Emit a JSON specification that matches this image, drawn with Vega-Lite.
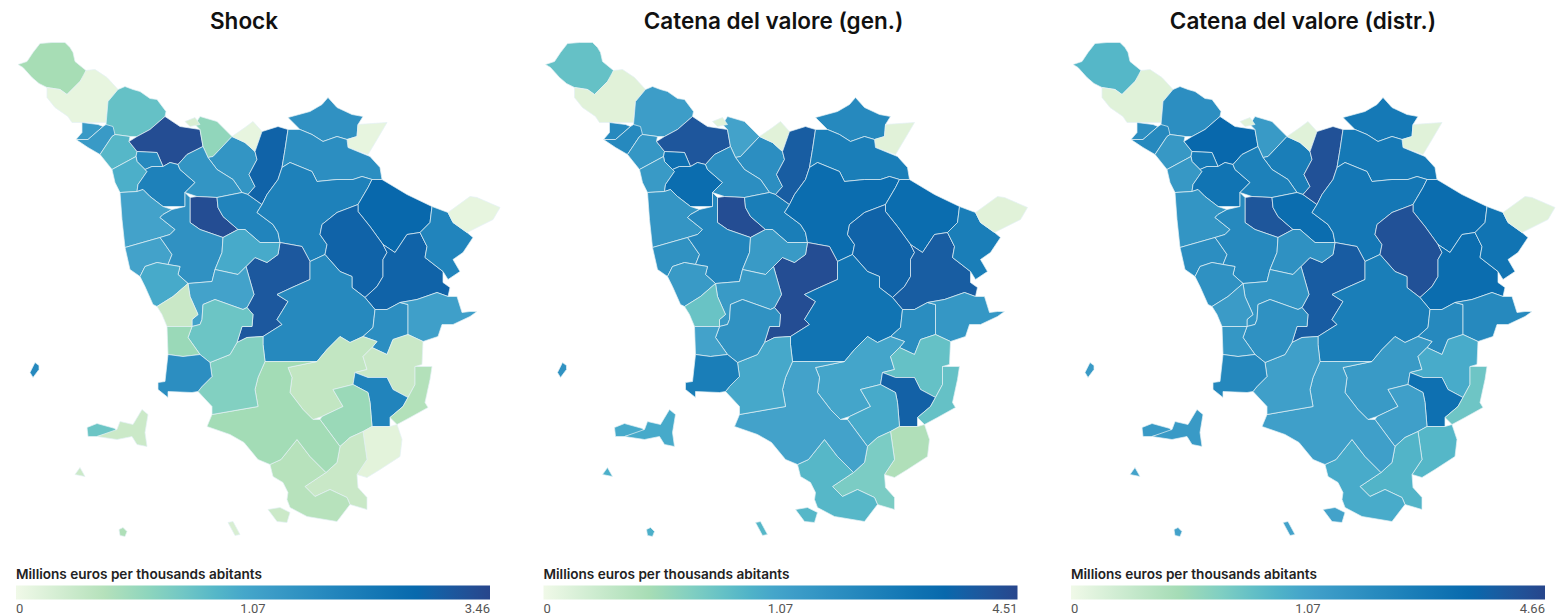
{"$schema":"https://vega.github.io/schema/vega-lite/v6.json","background":"white","padding":{"left":16,"top":10,"right":0,"bottom":0},"spacing":41.5,"config":{"view":{"stroke":null},"font":"Roboto"},"resolve":{"scale":{"color":"independent"}},
"datasets":{"regions":[
{"type":"Feature","properties":{"id":"r01","shock":0.27,"gen":0.6,"distr":0.74},"geometry":{"type":"Polygon","coordinates":[[[40,44],[52,43],[65,43],[70,48],[73,53],[75,62],[86,71],[84,77],[80,82],[67,95],[60,90],[47,88],[39,84],[32,78],[23,68],[18,65],[27,62],[33,53],[40,44]]]}},
{"type":"Feature","properties":{"id":"r02","shock":0.01,"gen":0.01,"distr":0.01},"geometry":{"type":"Polygon","coordinates":[[[86,71],[95,70],[107,78],[118,90],[108,102],[106,123],[92,123],[72,123],[68,117],[55,108],[47,98],[47,88],[60,90],[67,95],[80,82],[86,71]]]}},
{"type":"Feature","properties":{"id":"r03","shock":0.67,"gen":1.21,"distr":1.69},"geometry":{"type":"Polygon","coordinates":[[[125,87],[133,90],[140,92],[150,99],[157,100],[166,112],[165,117],[150,130],[137,137],[130,137],[115,135],[106,125],[108,102],[118,90],[125,87]]]}},
{"type":"Feature","properties":{"id":"r04","shock":1.26,"gen":1.85,"distr":1.69},"geometry":{"type":"Polygon","coordinates":[[[82,123],[98,125],[103,127],[88,140],[76,140],[82,133],[82,123]]]}},
{"type":"Feature","properties":{"id":"r05","shock":1.26,"gen":1.85,"distr":1.87},"geometry":{"type":"Polygon","coordinates":[[[103,127],[106,125],[113,127],[115,135],[112,137],[100,155],[88,148],[76,140],[88,140],[103,127]]]}},
{"type":"Feature","properties":{"id":"r06","shock":0.79,"gen":1.4,"distr":1.36},"geometry":{"type":"Polygon","coordinates":[[[115,135],[130,137],[129,142],[137,152],[136,157],[112,170],[100,155],[112,137],[115,135]]]}},
{"type":"Feature","properties":{"id":"r07","shock":3.29,"gen":3.88,"distr":3.3},"geometry":{"type":"Polygon","coordinates":[[[165,117],[180,127],[200,130],[203,147],[187,155],[178,165],[170,163],[163,167],[157,153],[137,152],[129,142],[137,137],[150,130],[165,117]]]}},
{"type":"Feature","properties":{"id":"r08","shock":1.67,"gen":2.84,"distr":2.53},"geometry":{"type":"Polygon","coordinates":[[[137,152],[157,153],[163,167],[152,167],[145,170],[137,162],[136,157],[137,152]]]}},
{"type":"Feature","properties":{"id":"r09","shock":0.9,"gen":1.3,"distr":1.36},"geometry":{"type":"Polygon","coordinates":[[[112,170],[136,157],[137,162],[145,170],[147,172],[138,185],[137,192],[120,193],[115,183],[112,170]]]}},
{"type":"Feature","properties":{"id":"r10","shock":1.89,"gen":2.99,"distr":2.75},"geometry":{"type":"Polygon","coordinates":[[[137,192],[138,185],[147,172],[145,170],[152,167],[163,167],[170,163],[178,165],[180,170],[195,183],[185,193],[185,207],[163,207],[150,197],[143,190],[137,192]]]}},
{"type":"Feature","properties":{"id":"r11","shock":0.38,"gen":1.07,"distr":1.31},"geometry":{"type":"Polygon","coordinates":[[[200,117],[217,122],[232,137],[213,157],[208,158],[203,147],[200,130],[195,125],[200,117]]]}},
{"type":"Feature","properties":{"id":"r12","shock":0.05,"gen":0.01,"distr":0.01},"geometry":{"type":"Polygon","coordinates":[[[185,122],[195,118],[200,125],[190,127],[185,122]]]}},
{"type":"Feature","properties":{"id":"r13","shock":1.38,"gen":1.67,"distr":2.32},"geometry":{"type":"Polygon","coordinates":[[[232,137],[245,143],[255,152],[257,160],[249,175],[255,187],[248,195],[242,193],[233,180],[217,170],[208,158],[213,157],[232,137]]]}},
{"type":"Feature","properties":{"id":"r14","shock":1.38,"gen":1.67,"distr":2.19},"geometry":{"type":"Polygon","coordinates":[[[203,147],[208,158],[217,170],[233,180],[242,193],[217,198],[197,197],[185,193],[195,183],[180,170],[178,165],[187,155],[203,147]]]}},
{"type":"Feature","properties":{"id":"r15","shock":3.29,"gen":4.23,"distr":4.0},"geometry":{"type":"Polygon","coordinates":[[[190,198],[197,197],[217,198],[218,208],[223,217],[238,230],[223,238],[200,230],[190,223],[190,198]]]}},
{"type":"Feature","properties":{"id":"r16","shock":1.8,"gen":2.28,"distr":3.06},"geometry":{"type":"Polygon","coordinates":[[[218,208],[217,198],[242,193],[248,195],[262,205],[257,213],[273,225],[278,233],[280,243],[260,243],[245,230],[238,230],[223,217],[218,208]]]}},
{"type":"Feature","properties":{"id":"r17","shock":1.46,"gen":1.85,"distr":2.53},"geometry":{"type":"Polygon","coordinates":[[[288,118],[310,112],[322,105],[328,98],[337,108],[352,115],[363,117],[358,125],[357,137],[347,140],[337,137],[323,142],[312,135],[300,130],[288,118]]]}},
{"type":"Feature","properties":{"id":"r18","shock":0.01,"gen":0.01,"distr":0.01},"geometry":{"type":"Polygon","coordinates":[[[358,125],[387,123],[377,140],[368,155],[348,148],[347,140],[357,137],[358,125]]]}},
{"type":"Feature","properties":{"id":"r19","shock":0.01,"gen":0.01,"distr":0.01},"geometry":{"type":"Polygon","coordinates":[[[232,137],[245,128],[253,122],[262,132],[255,152],[245,143],[232,137]]]}},
{"type":"Feature","properties":{"id":"r20","shock":2.74,"gen":3.62,"distr":4.18},"geometry":{"type":"Polygon","coordinates":[[[262,132],[278,127],[288,130],[285,150],[282,168],[278,180],[267,195],[262,205],[248,195],[255,187],[249,175],[257,160],[255,152],[262,132]]]}},
{"type":"Feature","properties":{"id":"r21","shock":1.54,"gen":2.28,"distr":2.53},"geometry":{"type":"Polygon","coordinates":[[[288,130],[300,130],[312,135],[323,142],[337,137],[347,140],[348,148],[370,157],[380,168],[382,180],[372,180],[362,177],[353,180],[337,180],[317,182],[312,172],[290,163],[282,168],[285,150],[288,130]]]}},
{"type":"Feature","properties":{"id":"r22","shock":1.89,"gen":2.99,"distr":2.6},"geometry":{"type":"Polygon","coordinates":[[[282,168],[290,163],[312,172],[317,182],[337,180],[353,180],[362,177],[372,180],[368,188],[358,205],[337,213],[322,225],[320,235],[327,245],[325,255],[310,262],[302,247],[280,243],[278,233],[273,225],[257,213],[262,205],[267,195],[278,180],[282,168]]]}},
{"type":"Feature","properties":{"id":"r23","shock":2.63,"gen":2.99,"distr":3.06},"geometry":{"type":"Polygon","coordinates":[[[372,180],[382,180],[407,195],[432,207],[430,223],[420,233],[407,235],[395,253],[383,245],[370,227],[358,212],[358,205],[368,188],[372,180]]]}},
{"type":"Feature","properties":{"id":"r24","shock":2.74,"gen":3.38,"distr":4.18},"geometry":{"type":"Polygon","coordinates":[[[358,205],[337,213],[322,225],[320,235],[327,245],[325,255],[340,272],[352,277],[352,288],[365,298],[377,287],[383,277],[383,260],[387,253],[383,245],[370,227],[358,212],[358,205]]]}},
{"type":"Feature","properties":{"id":"r25","shock":2.74,"gen":3.62,"distr":3.06},"geometry":{"type":"Polygon","coordinates":[[[383,245],[395,253],[407,235],[420,233],[427,247],[425,258],[443,272],[443,283],[450,288],[448,297],[437,293],[417,300],[400,303],[387,310],[375,310],[365,298],[377,287],[383,277],[383,260],[387,253],[383,245]]]}},
{"type":"Feature","properties":{"id":"r26","shock":1.8,"gen":2.28,"distr":2.75},"geometry":{"type":"Polygon","coordinates":[[[432,207],[448,213],[453,223],[467,233],[473,238],[463,253],[453,260],[460,272],[448,280],[443,272],[425,258],[427,247],[420,233],[430,223],[432,207]]]}},
{"type":"Feature","properties":{"id":"r27","shock":0.01,"gen":0.01,"distr":0.01},"geometry":{"type":"Polygon","coordinates":[[[448,213],[453,223],[467,233],[493,220],[500,208],[477,198],[470,197],[448,213]]]}},
{"type":"Feature","properties":{"id":"r28","shock":3.0,"gen":4.23,"distr":3.73},"geometry":{"type":"Polygon","coordinates":[[[246,267],[255,258],[267,263],[278,255],[280,243],[302,247],[310,262],[310,280],[292,288],[277,295],[288,302],[277,320],[282,325],[263,337],[247,338],[237,343],[242,327],[252,327],[253,315],[247,308],[254,295],[246,267]]]}},
{"type":"Feature","properties":{"id":"r29","shock":1.67,"gen":2.69,"distr":2.32},"geometry":{"type":"Polygon","coordinates":[[[277,295],[292,288],[310,280],[310,262],[325,255],[340,272],[352,277],[352,288],[365,298],[375,310],[373,328],[363,337],[350,343],[340,337],[327,350],[317,362],[265,362],[263,345],[263,337],[282,325],[277,320],[288,302],[277,295]]]}},
{"type":"Feature","properties":{"id":"r30","shock":1.54,"gen":1.73,"distr":1.87},"geometry":{"type":"Polygon","coordinates":[[[375,310],[387,310],[400,303],[408,305],[408,335],[393,340],[387,355],[372,348],[377,342],[363,337],[373,328],[375,310]]]}},
{"type":"Feature","properties":{"id":"r31","shock":1.14,"gen":1.4,"distr":1.87},"geometry":{"type":"Polygon","coordinates":[[[400,303],[417,300],[437,293],[448,297],[457,297],[462,313],[470,312],[477,312],[470,317],[453,325],[442,325],[438,337],[423,342],[408,335],[408,305],[400,303]]]}},
{"type":"Feature","properties":{"id":"r32","shock":0.14,"gen":1.02,"distr":1.31},"geometry":{"type":"Polygon","coordinates":[[[288,368],[317,362],[327,350],[340,337],[350,343],[363,337],[377,342],[372,348],[363,357],[367,370],[355,373],[353,385],[333,390],[343,407],[322,417],[313,420],[303,410],[290,393],[292,378],[288,368]]]}},
{"type":"Feature","properties":{"id":"r33","shock":0.11,"gen":0.6,"distr":0.93},"geometry":{"type":"Polygon","coordinates":[[[372,348],[387,355],[393,340],[408,335],[423,342],[422,365],[415,367],[415,385],[408,398],[393,390],[387,378],[368,378],[355,373],[367,370],[363,357],[372,348]]]}},
{"type":"Feature","properties":{"id":"r34","shock":1.8,"gen":3.46,"distr":2.9},"geometry":{"type":"Polygon","coordinates":[[[355,373],[368,378],[387,378],[393,390],[408,398],[403,407],[390,418],[390,427],[372,427],[370,403],[368,393],[353,385],[355,373]]]}},
{"type":"Feature","properties":{"id":"r35","shock":0.21,"gen":0.6,"distr":0.53},"geometry":{"type":"Polygon","coordinates":[[[415,367],[432,367],[430,380],[425,403],[428,408],[410,418],[397,425],[390,418],[403,407],[408,398],[415,385],[415,367]]]}},
{"type":"Feature","properties":{"id":"r36","shock":0.33,"gen":0.94,"distr":1.16},"geometry":{"type":"Polygon","coordinates":[[[333,390],[353,385],[368,393],[370,403],[372,427],[363,432],[350,438],[340,447],[320,420],[322,417],[343,407],[333,390]]]}},
{"type":"Feature","properties":{"id":"r37","shock":0.02,"gen":0.16,"distr":0.74},"geometry":{"type":"Polygon","coordinates":[[[363,432],[372,427],[390,427],[397,425],[402,440],[400,457],[380,470],[367,478],[357,475],[367,460],[363,432]]]}},
{"type":"Feature","properties":{"id":"r38","shock":0.11,"gen":0.45,"distr":0.78},"geometry":{"type":"Polygon","coordinates":[[[340,447],[350,438],[363,432],[367,460],[357,475],[358,488],[367,498],[367,510],[350,505],[347,498],[330,490],[315,497],[305,487],[326,473],[337,463],[340,447]]]}},
{"type":"Feature","properties":{"id":"r39","shock":0.19,"gen":0.74,"distr":0.93},"geometry":{"type":"Polygon","coordinates":[[[270,465],[281,460],[297,440],[310,457],[326,473],[305,487],[315,497],[330,490],[347,498],[350,505],[337,522],[307,517],[290,508],[287,500],[288,493],[283,483],[273,477],[270,465]]]}},
{"type":"Feature","properties":{"id":"r40","shock":0.29,"gen":1.07,"distr":1.16},"geometry":{"type":"Polygon","coordinates":[[[207,427],[212,415],[258,407],[255,390],[258,378],[265,362],[317,362],[288,368],[292,378],[290,393],[303,410],[313,420],[320,420],[340,447],[337,463],[326,473],[310,457],[297,440],[281,460],[270,465],[258,460],[244,443],[230,435],[207,427]]]}},
{"type":"Feature","properties":{"id":"r41","shock":0.47,"gen":0.98,"distr":1.16},"geometry":{"type":"Polygon","coordinates":[[[210,363],[230,355],[237,343],[247,338],[263,337],[263,345],[265,362],[258,378],[255,390],[258,407],[212,415],[212,407],[198,392],[202,387],[212,377],[210,363]]]}},
{"type":"Feature","properties":{"id":"r42","shock":1.07,"gen":1.45,"distr":1.47},"geometry":{"type":"Polygon","coordinates":[[[120,193],[137,192],[143,190],[150,197],[163,207],[172,210],[163,215],[160,218],[175,230],[170,235],[160,238],[125,248],[122,220],[120,193]]]}},
{"type":"Feature","properties":{"id":"r43","shock":1.07,"gen":1.56,"distr":1.69},"geometry":{"type":"Polygon","coordinates":[[[125,248],[160,238],[163,242],[172,255],[168,265],[157,263],[145,267],[140,277],[130,270],[125,248]]]}},
{"type":"Feature","properties":{"id":"r44","shock":1.46,"gen":1.97,"distr":1.87},"geometry":{"type":"Polygon","coordinates":[[[172,210],[185,207],[185,193],[190,198],[190,223],[200,230],[223,238],[222,253],[215,270],[212,282],[188,284],[178,275],[180,267],[168,265],[172,255],[163,242],[160,238],[170,235],[175,230],[160,218],[163,215],[172,210]]]}},
{"type":"Feature","properties":{"id":"r45","shock":0.96,"gen":1.3,"distr":1.58},"geometry":{"type":"Polygon","coordinates":[[[223,238],[238,230],[245,230],[260,243],[280,243],[278,255],[267,263],[255,258],[246,267],[238,275],[215,270],[222,253],[223,238]]]}},
{"type":"Feature","properties":{"id":"r46","shock":0.96,"gen":1.3,"distr":1.58},"geometry":{"type":"Polygon","coordinates":[[[145,267],[157,263],[168,265],[180,267],[178,275],[188,284],[173,297],[157,307],[153,305],[145,287],[140,277],[145,267]]]}},
{"type":"Feature","properties":{"id":"r47","shock":1.07,"gen":1.3,"distr":1.47},"geometry":{"type":"Polygon","coordinates":[[[188,284],[212,282],[215,270],[238,275],[246,267],[254,295],[247,308],[243,310],[215,300],[203,305],[202,320],[200,325],[192,327],[192,320],[198,315],[190,297],[188,284]]]}},
{"type":"Feature","properties":{"id":"r48","shock":0.62,"gen":1.56,"distr":1.58},"geometry":{"type":"Polygon","coordinates":[[[203,305],[215,300],[243,310],[247,308],[253,315],[252,327],[242,327],[237,343],[230,355],[210,363],[200,355],[188,338],[192,327],[200,325],[202,320],[203,305]]]}},
{"type":"Feature","properties":{"id":"r49","shock":0.11,"gen":0.57,"distr":1.26},"geometry":{"type":"Polygon","coordinates":[[[157,307],[173,297],[188,284],[190,297],[198,315],[192,320],[192,327],[167,327],[162,315],[157,307]]]}},
{"type":"Feature","properties":{"id":"r50","shock":0.33,"gen":1.07,"distr":1.41},"geometry":{"type":"Polygon","coordinates":[[[167,327],[192,327],[188,338],[200,355],[183,357],[168,355],[167,327]]]}},
{"type":"Feature","properties":{"id":"r51","shock":1.54,"gen":2.28,"distr":1.93},"geometry":{"type":"Polygon","coordinates":[[[168,355],[183,357],[200,355],[210,363],[212,377],[202,387],[198,392],[192,393],[168,392],[168,398],[158,390],[158,383],[165,382],[168,355]]]}},
{"type":"Feature","properties":{"id":"r52","shock":1.67,"gen":1.56,"distr":1.31},"geometry":{"type":"Polygon","coordinates":[[[35,363],[39,366],[39,370],[33,378],[30,373],[35,363]]]}},
{"type":"Feature","properties":{"id":"r53","shock":0.62,"gen":0.94,"distr":1.31},"geometry":{"type":"Polygon","coordinates":[[[87,428],[97,424],[115,429],[117,432],[97,437],[88,437],[87,428]]]}},
{"type":"Feature","properties":{"id":"r54","shock":0.1,"gen":0.94,"distr":1.31},"geometry":{"type":"Polygon","coordinates":[[[97,437],[117,430],[120,422],[133,425],[142,410],[148,415],[145,433],[147,447],[137,445],[132,437],[117,440],[97,437]]]}},
{"type":"Feature","properties":{"id":"r55","shock":0.1,"gen":0.86,"distr":1.07},"geometry":{"type":"Polygon","coordinates":[[[75,475],[80,468],[85,477],[75,475]]]}},
{"type":"Feature","properties":{"id":"r56","shock":0.23,"gen":0.86,"distr":1.07},"geometry":{"type":"Polygon","coordinates":[[[119,530],[123,528],[127,532],[125,537],[120,536],[119,530]]]}},
{"type":"Feature","properties":{"id":"r57","shock":0.05,"gen":0.74,"distr":1.07},"geometry":{"type":"Polygon","coordinates":[[[228,523],[233,522],[240,535],[235,536],[228,523]]]}},
{"type":"Feature","properties":{"id":"r58","shock":0.1,"gen":0.74,"distr":1.07},"geometry":{"type":"Polygon","coordinates":[[[268,510],[280,508],[290,513],[287,523],[277,522],[268,510]]]}}
]},
"hconcat":[
{"width":482,"height":495,"title":{"text":"Shock","fontSize":22.5,"fontWeight":600,"font":"Inter","color":"#111111","dx":-15,"offset":8},"data":{"name":"regions"},"mark":{"type":"geoshape","stroke":"#e4f0f5","strokeWidth":0.7},"projection":{"type":"identity"},"encoding":{"color":{"field":"properties.shock","type":"quantitative","scale":{"type":"pow","exponent":0.5906,"domain":[0,0.267,0.53,1.07,2.63,3.46],"range":["#f0f9e8","#a8ddb5","#7bccc4","#43a2ca","#0868ac","#27468c"]},"legend":{"orient":"none","legendX":-2,"legendY":526,"direction":"horizontal","gradientLength":474,"gradientThickness":14,"values":[0,1.07,3.46],"format":".3~g","title":"Millions euros per thousands abitants","titleLimit":400,"titleFont":"Inter","titleFontSize":13.6,"titleFontWeight":600,"titleColor":"#222222","titlePadding":4,"labelFontSize":13,"labelColor":"#555555","labelOffset":3,"labelOverlap":false}}}},
{"width":482,"height":495,"title":{"text":"Catena del valore (gen.)","fontSize":22.5,"fontWeight":600,"font":"Inter","color":"#111111","dx":-13,"offset":8},"data":{"name":"regions"},"mark":{"type":"geoshape","stroke":"#e4f0f5","strokeWidth":0.7},"projection":{"type":"identity"},"encoding":{"color":{"field":"properties.gen","type":"quantitative","scale":{"type":"pow","exponent":0.4818,"domain":[0,0.195,0.451,1.07,3.219,4.51],"range":["#f0f9e8","#a8ddb5","#7bccc4","#43a2ca","#0868ac","#27468c"]},"legend":{"orient":"none","legendX":-2,"legendY":526,"direction":"horizontal","gradientLength":474,"gradientThickness":14,"values":[0,1.07,4.51],"format":".3~g","title":"Millions euros per thousands abitants","titleLimit":400,"titleFont":"Inter","titleFontSize":13.6,"titleFontWeight":600,"titleColor":"#222222","titlePadding":4,"labelFontSize":13,"labelColor":"#555555","labelOffset":3,"labelOverlap":false}}}},
{"width":482,"height":495,"title":{"text":"Catena del valore (distr.)","fontSize":22.5,"fontWeight":600,"font":"Inter","color":"#111111","dx":-11,"offset":8},"data":{"name":"regions"},"mark":{"type":"geoshape","stroke":"#e4f0f5","strokeWidth":0.7},"projection":{"type":"identity"},"encoding":{"color":{"field":"properties.distr","type":"quantitative","scale":{"type":"pow","exponent":0.4711,"domain":[0,0.187,0.443,1.07,3.3,4.66],"range":["#f0f9e8","#a8ddb5","#7bccc4","#43a2ca","#0868ac","#27468c"]},"legend":{"orient":"none","legendX":-2,"legendY":526,"direction":"horizontal","gradientLength":474,"gradientThickness":14,"values":[0,1.07,4.66],"format":".3~g","title":"Millions euros per thousands abitants","titleLimit":400,"titleFont":"Inter","titleFontSize":13.6,"titleFontWeight":600,"titleColor":"#222222","titlePadding":4,"labelFontSize":13,"labelColor":"#555555","labelOffset":3,"labelOverlap":false}}}}
]}
